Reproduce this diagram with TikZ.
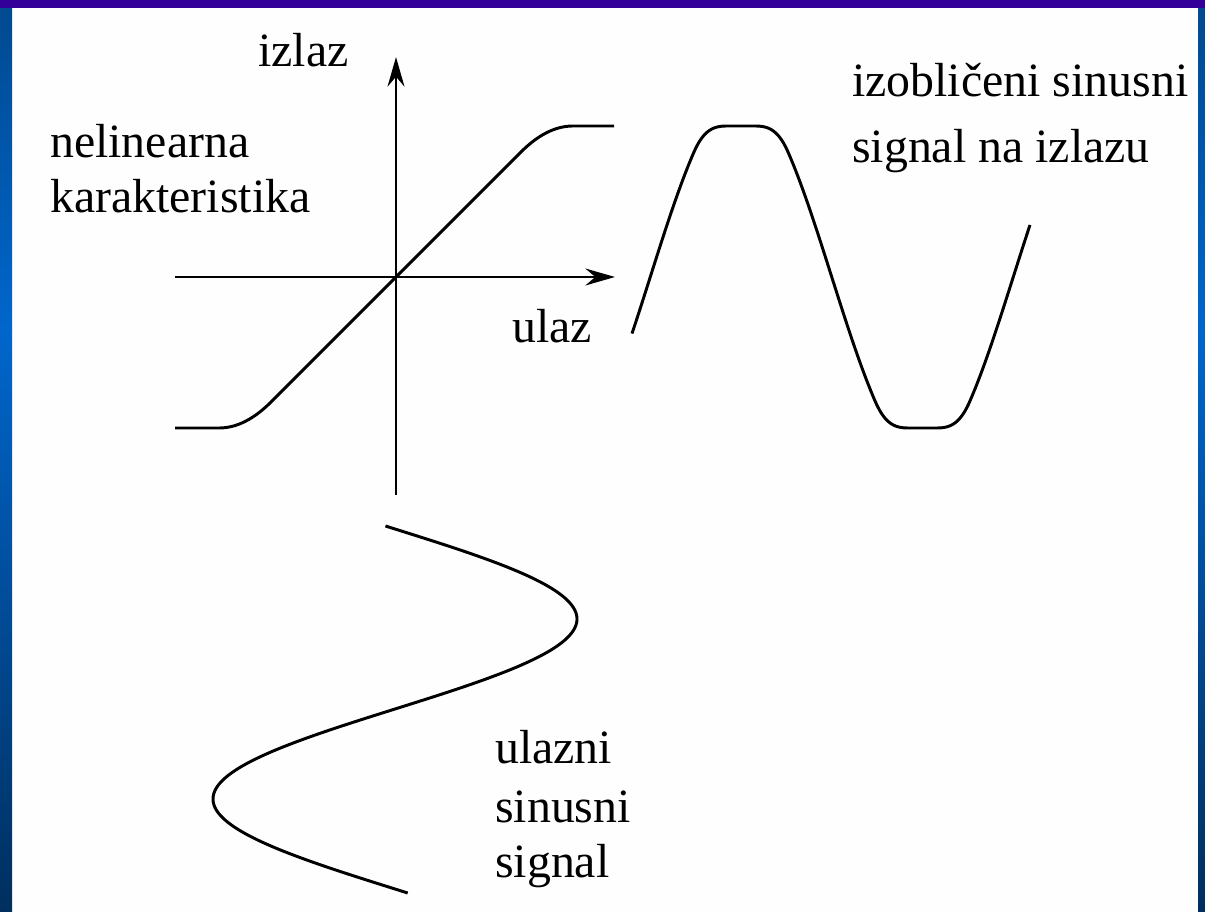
\documentclass[tikz,border=0pt]{standalone}
\usepackage{fontspec}
\setmainfont{Liberation Serif}
\usetikzlibrary{arrows.meta}
\definecolor{Frame}{HTML}{330099}
\definecolor{BandTop}{HTML}{004A90}
\definecolor{BandMid}{HTML}{0066CC}
\definecolor{BandLow}{HTML}{002F5E}
\definecolor{Panel}{HTML}{FEFEFE}
\tikzset{curve/.style={black,line width=2.1pt,line join=round},
  axis/.style={black,line width=2.1pt,->},
  label/.style={font=\fontsize{34}{40}\selectfont,inner sep=0pt,anchor=base west}}
\begin{document}
\begin{tikzpicture}[x=0.025cm,y=-0.025cm,>={Stealth[length=21pt,width=12pt,inset=7pt]},
  declare function={gsat(\val)=(\val<125)?\val:((\val<177)?(\val-(\val-125)^2/104):151);
    fsat(\inp)=sign(\inp)*gsat(abs(\inp));}]
\useasboundingbox (0,0) rectangle (1205,912);
\fill[Panel] (0,0) rectangle (1205,912);
% frame bands
\shade[top color=BandTop,bottom color=BandMid] (0,8) rectangle (12,330);
\shade[top color=BandMid,bottom color=BandLow] (0,330) rectangle (12,912);
\shade[top color=BandTop,bottom color=BandMid] (1198,8) rectangle (1205,330);
\shade[top color=BandMid,bottom color=BandLow] (1198,330) rectangle (1205,912);
\fill[Frame] (0,0) rectangle (1205,8);
% axes
\coordinate (O) at (396,277);
\coordinate (ybot) at (396,495);\coordinate (ytop) at (396,57);
\coordinate (xleft) at (175,277);\coordinate (xright) at (615,277);
\draw[axis] (ybot)--(ytop);
\draw[axis] (xleft)--(xright);
% nonlinear characteristic
\draw[curve] plot[domain=175:614,samples=220] (\x,{277-fsat(\x-396)});
% distorted output signal
\draw[curve] plot[domain=632:1030,samples=240] (\x,{277-fsat(182*sin((\x-741)/363*360+90))});
% input sine signal
\draw[curve] plot[variable=\t,domain=526:893,samples=220] ({395+182*sin(\t-529)},\t);
% labels
\node[label] (izl) at (258,67){izlaz};
\node[label] (nel) at (50,158){nelinearna};
\node[label] (kar) at (50,213){karakteristika};
\node[label] (ul) at (512,343){ulaz};
\node[label] (izo) at (852,97){izobličeni sinusni};
\node[label] (sig) at (852,163){signal na izlazu};
\node[label] (uln) at (495,763){ulazni};
\node[label] (sin) at (495,822){sinusni};
\node[label] (sgn) at (495,877){signal};
\end{tikzpicture}
\end{document}
